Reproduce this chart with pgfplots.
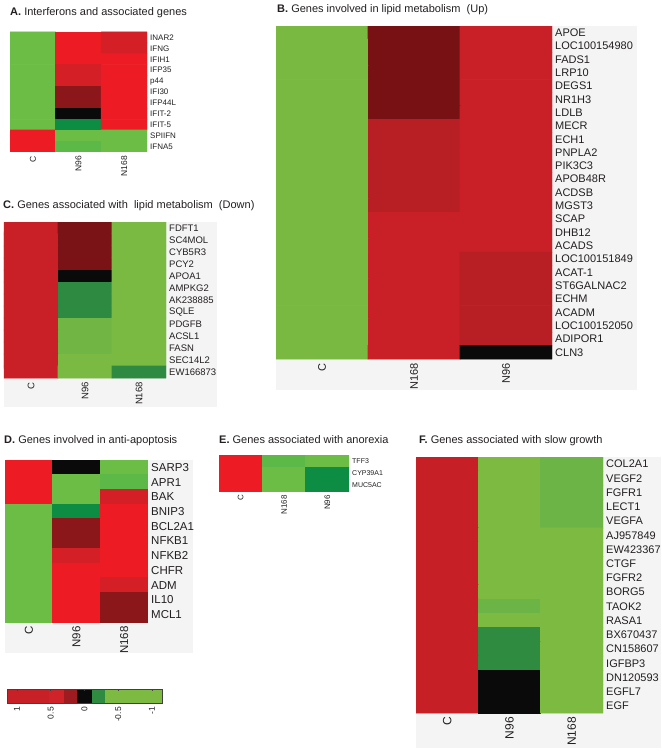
\documentclass[border=0pt]{standalone}
\usepackage{fontspec}
\setmainfont{Liberation Sans}
\usepackage{pgfplots}
\pgfplotsset{compat=1.18}
\definecolor{txt}{RGB}{35,31,32}
\definecolor{lblgray}{RGB}{244,244,244}
\definecolor{cbA}{RGB}{200,32,39}
\definecolor{cbB}{RGB}{207,35,42}
\definecolor{cbC}{RGB}{158,27,31}
\definecolor{cbD}{RGB}{10,10,10}
\definecolor{cbE}{RGB}{46,139,64}
\definecolor{cbF}{RGB}{125,186,66}
\pgfplotsset{
  hm/.style={
    scale only axis, anchor=north west,
    enlargelimits=false, y dir=reverse,
    axis line style={draw=none}, tick style={draw=none},
    xmin=-0.5, xmax=2.5, xtick={0,1,2},
    yticklabel pos=right,
    xticklabel style={rotate=90, anchor=east, inner sep=0pt, text=txt},
    yticklabel style={anchor=west, inner sep=0pt, text=txt},
    xticklabel shift=4pt, yticklabel shift=3pt,
  },
  cell/.style={matrix plot*, mesh/cols=3, point meta=explicit, colormap access=direct,
    shader=faceted, faceted color=mapped color, line width=0.9pt},
}
\newcommand{\fs}[1]{\fontsize{#1}{#1}\selectfont}
\begin{document}
\begin{tikzpicture}
\useasboundingbox (0,0) rectangle (661pt,-751pt);
% label backgrounds
\fill[lblgray] (276pt,-26pt) rectangle (637pt,-390pt);
\fill[lblgray] (4pt,-222pt) rectangle (217pt,-407pt);
\fill[lblgray] (5pt,-460pt) rectangle (193pt,-653pt);
\fill[lblgray] (416pt,-457pt) rectangle (661pt,-748pt);
% titles
\begin{scope}[every node/.style={anchor=base west, inner sep=0pt, font=\fs{11}, text=txt}]
\node at (10pt,-16pt) {\textbf{A.} Interferons and associated genes};
\node at (277pt,-13pt) {\textbf{B.} Genes involved in lipid metabolism\ \ (Up)};
\node at (3pt,-208pt) {\textbf{C.} Genes associated with\ \ lipid metabolism\ \ (Down)};
\node at (4pt,-443pt) {\textbf{D.} Genes involved in anti-apoptosis};
\node at (219pt,-443pt) {\textbf{E.} Genes associated with anorexia};
\node at (419pt,-443pt) {\textbf{F.} Genes associated with slow growth};
\end{scope}

% ---------------- Panel A ----------------
\begin{axis}[hm, at={(10pt,-32pt)}, width=137pt, height=120pt,
  ymin=-0.5, ymax=10.5, ytick={0,...,10},
  xticklabels={C,N96,N168},
  yticklabels={INAR2,IFNG,IFIH1,IFP35,p44,IFI30,IFP44L,IFIT-2,IFIT-5,SPIIFN,IFNA5},
  xticklabel style={font=\fs{8.5}}, yticklabel style={font=\fs{8}},
  colormap={pA}{rgb255=(107,189,69) rgb255=(237,28,36) rgb255=(212,31,39) rgb255=(139,23,27) rgb255=(10,10,10) rgb255=(13,140,68) rgb255=(92,185,71)}]
\addplot[cell] table[meta=m] {
x y m
0 0 0
1 0 1
2 0 2
0 1 0
1 1 1
2 1 2
0 2 0
1 2 1
2 2 1
0 3 0
1 3 2
2 3 1
0 4 0
1 4 2
2 4 1
0 5 0
1 5 3
2 5 1
0 6 0
1 6 3
2 6 1
0 7 0
1 7 4
2 7 1
0 8 0
1 8 5
2 8 1
0 9 1
1 9 0
2 9 0
0 10 1
1 10 6
2 10 0
};
\end{axis}

% ---------------- Panel B ----------------
\begin{axis}[hm, at={(276pt,-26pt)}, width=276pt, height=333pt,
  ymin=-0.5, ymax=24.5, ytick={0,...,24},
  xticklabels={C,N168,N96},
  yticklabels={APOE,LOC100154980,FADS1,LRP10,DEGS1,NR1H3,LDLB,MECR,ECH1,PNPLA2,PIK3C3,APOB48R,ACDSB,MGST3,SCAP,DHB12,ACADS,LOC100151849,ACAT-1,ST6GALNAC2,ECHM,ACADM,LOC100152050,ADIPOR1,CLN3},
  xticklabel style={font=\fs{11}}, yticklabel style={font=\fs{11}},
  colormap={pB}{rgb255=(122,185,65) rgb255=(120,17,20) rgb255=(183,31,36) rgb255=(201,32,39) rgb255=(10,10,10)}]
\addplot[cell] table[meta=m] {
x y m
0 0 0
1 0 1
2 0 3
0 1 0
1 1 1
2 1 3
0 2 0
1 2 1
2 2 3
0 3 0
1 3 1
2 3 3
0 4 0
1 4 1
2 4 3
0 5 0
1 5 1
2 5 3
0 6 0
1 6 1
2 6 3
0 7 0
1 7 2
2 7 3
0 8 0
1 8 2
2 8 3
0 9 0
1 9 2
2 9 3
0 10 0
1 10 2
2 10 3
0 11 0
1 11 2
2 11 3
0 12 0
1 12 2
2 12 3
0 13 0
1 13 2
2 13 3
0 14 0
1 14 3
2 14 3
0 15 0
1 15 3
2 15 3
0 16 0
1 16 3
2 16 3
0 17 0
1 17 3
2 17 2
0 18 0
1 18 3
2 18 2
0 19 0
1 19 3
2 19 2
0 20 0
1 20 3
2 20 2
0 21 0
1 21 3
2 21 2
0 22 0
1 22 3
2 22 2
0 23 0
1 23 3
2 23 2
0 24 0
1 24 3
2 24 4
};
\end{axis}

% ---------------- Panel C ----------------
\begin{axis}[hm, at={(4pt,-222pt)}, width=162pt, height=156pt,
  ymin=-0.5, ymax=12.5, ytick={0,...,12},
  xticklabels={C,N96,N168},
  yticklabels={FDFT1,SC4MOL,CYB5R3,PCY2,APOA1,AMPKG2,AK238885,SQLE,PDGFB,ACSL1,FASN,SEC14L2,EW166873},
  xticklabel style={font=\fs{9.5}}, yticklabel style={font=\fs{9.5}},
  colormap={pC}{rgb255=(201,32,39) rgb255=(122,19,21) rgb255=(10,10,10) rgb255=(46,138,64) rgb255=(123,186,66) rgb255=(113,182,68)}]
\addplot[cell] table[meta=m] {
x y m
0 0 0
1 0 1
2 0 4
0 1 0
1 1 1
2 1 4
0 2 0
1 2 1
2 2 4
0 3 0
1 3 1
2 3 4
0 4 0
1 4 2
2 4 4
0 5 0
1 5 3
2 5 4
0 6 0
1 6 3
2 6 4
0 7 0
1 7 3
2 7 4
0 8 0
1 8 5
2 8 4
0 9 0
1 9 5
2 9 4
0 10 0
1 10 5
2 10 4
0 11 0
1 11 4
2 11 4
0 12 0
1 12 4
2 12 3
};
\end{axis}

% ---------------- Panel D ----------------
\begin{axis}[hm, at={(5pt,-460pt)}, width=143pt, height=162pt,
  ymin=-0.5, ymax=10.5, ytick={0,...,10},
  xticklabels={C,N96,N168},
  yticklabels={SARP3,APR1,BAK,BNIP3,BCL2A1,NFKB1,NFKB2,CHFR,ADM,IL10,MCL1},
  xticklabel style={font=\fs{11.5}}, yticklabel style={font=\fs{11.5}},
  colormap={pD}{rgb255=(107,189,69) rgb255=(237,28,36) rgb255=(212,31,39) rgb255=(139,23,27) rgb255=(10,10,10) rgb255=(13,140,68) rgb255=(92,185,71)}]
\addplot[cell] table[meta=m] {
x y m
0 0 1
1 0 4
2 0 0
0 1 1
1 1 0
2 1 6
0 2 1
1 2 0
2 2 2
0 3 0
1 3 5
2 3 1
0 4 0
1 4 3
2 4 1
0 5 0
1 5 3
2 5 1
0 6 0
1 6 2
2 6 1
0 7 0
1 7 1
2 7 1
0 8 0
1 8 1
2 8 2
0 9 0
1 9 1
2 9 3
0 10 0
1 10 1
2 10 3
};
\end{axis}

% ---------------- Panel E ----------------
\begin{axis}[hm, at={(219pt,-455pt)}, width=130pt, height=36pt,
  ymin=-0.5, ymax=2.5, ytick={0,1,2},
  xticklabels={C,N168,N96},
  yticklabels={TFF3,CYP39A1,MUC5AC},
  xticklabel style={font=\fs{8}}, yticklabel style={font=\fs{7}},
  colormap={pE}{rgb255=(107,189,69) rgb255=(237,28,36) rgb255=(212,31,39) rgb255=(139,23,27) rgb255=(10,10,10) rgb255=(13,140,68) rgb255=(92,185,71)}]
\addplot[cell] table[meta=m] {
x y m
0 0 1
1 0 6
2 0 0
0 1 1
1 1 0
2 1 5
0 2 1
1 2 0
2 2 5
};
\end{axis}

% ---------------- Panel F ----------------
\begin{axis}[hm, at={(416pt,-457pt)}, width=187pt, height=256pt,
  ymin=-0.5, ymax=17.5, ytick={0,...,17},
  xticklabels={C,N96,N168},
  yticklabels={COL2A1,VEGF2,FGFR1,LECT1,VEGFA,AJ957849,EW423367,CTGF,FGFR2,BORG5,TAOK2,RASA1,BX670437,CN158607,IGFBP3,DN120593,EGFL7,EGF},
  xticklabel style={font=\fs{12}}, yticklabel style={font=\fs{11}},
  colormap={pF}{rgb255=(198,32,38) rgb255=(125,186,66) rgb255=(108,180,69) rgb255=(46,139,64) rgb255=(10,10,10)}]
\addplot[cell] table[meta=m] {
x y m
0 0 0
1 0 1
2 0 2
0 1 0
1 1 1
2 1 2
0 2 0
1 2 1
2 2 2
0 3 0
1 3 1
2 3 2
0 4 0
1 4 1
2 4 2
0 5 0
1 5 1
2 5 1
0 6 0
1 6 1
2 6 1
0 7 0
1 7 1
2 7 1
0 8 0
1 8 1
2 8 1
0 9 0
1 9 1
2 9 1
0 10 0
1 10 2
2 10 1
0 11 0
1 11 1
2 11 1
0 12 0
1 12 3
2 12 1
0 13 0
1 13 3
2 13 1
0 14 0
1 14 3
2 14 1
0 15 0
1 15 4
2 15 1
0 16 0
1 16 4
2 16 1
0 17 0
1 17 4
2 17 1
};
\end{axis}

% ---------------- Colour bar ----------------
\begin{axis}[scale only axis, anchor=north west, at={(7pt,-689pt)},
  width=155pt, height=14pt, x dir=reverse,
  xmin=-1.148, xmax=1.148, ymin=0, ymax=1,
  axis line style={draw=black!75, line width=0.6pt},
  ytick=\empty, xtick={1,0.5,0,-0.5,-1},
  xticklabels={1,0.5,0,-0.5,-1},
  tick align=inside, major tick length=2pt,
  xtick pos=right, xticklabel pos=left,
  tick style={draw=black!75, line width=0.5pt},
  xticklabel style={rotate=90, anchor=east, inner sep=0pt, font=\fs{8.5}, text=txt},
  xticklabel shift=4pt,
  axis on top]
\addplot[fill=cbA, draw=none] coordinates {(1.148,0) (0.52,0) (0.52,1) (1.148,1)} -- cycle;
\addplot[fill=cbB, draw=none] coordinates {(0.52,0) (0.31,0) (0.31,1) (0.52,1)} -- cycle;
\addplot[fill=cbC, draw=none] coordinates {(0.31,0) (0.104,0) (0.104,1) (0.31,1)} -- cycle;
\addplot[fill=cbD, draw=none] coordinates {(0.104,0) (-0.104,0) (-0.104,1) (0.104,1)} -- cycle;
\addplot[fill=cbE, draw=none] coordinates {(-0.104,0) (-0.31,0) (-0.31,1) (-0.104,1)} -- cycle;
\addplot[fill=cbF, draw=none] coordinates {(-0.31,0) (-1.148,0) (-1.148,1) (-0.31,1)} -- cycle;
\end{axis}
\end{tikzpicture}
\end{document}
